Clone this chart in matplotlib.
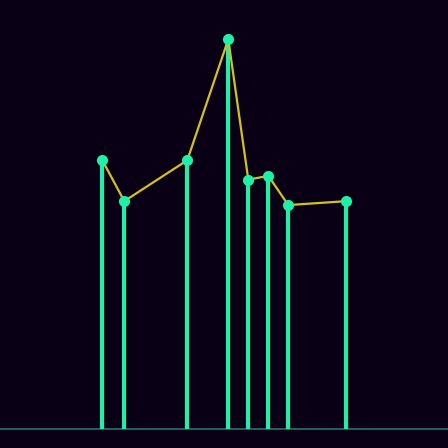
import matplotlib
matplotlib.use("Agg")
import matplotlib.pyplot as plt
import numpy as np

x = [1.0, 2.1, 5.25, 7.3, 8.3, 9.3, 10.3, 13.2]
values = [6.9, 5.85, 6.9, 10.0, 6.4, 6.5, 5.75, 5.85]

bg = "#0a0016"
stem_color = "#1ef0a8"
line_color = "#d2c21c"
base_color = "#2f6f6a"

fig = plt.figure(figsize=(4.48, 4.48), dpi=100, facecolor=bg)
ax = fig.add_axes([0, 0, 1, 1])
ax.set_facecolor(bg)

ax.axhline(0, color=base_color, lw=1.2, zorder=1)
ax.vlines(x, 0, values, color=stem_color, lw=3, zorder=2)
ax.plot(x, values, color=line_color, lw=1.6, zorder=3)
ax.plot(x, values, "o", color=stem_color, ms=8, zorder=4, markeredgewidth=0)

ax.set_xlim(-4.115, 18.285)
ax.set_ylim(-0.479, 11.008)
ax.axis("off")

fig.savefig("out.png", dpi=100, facecolor=bg)
